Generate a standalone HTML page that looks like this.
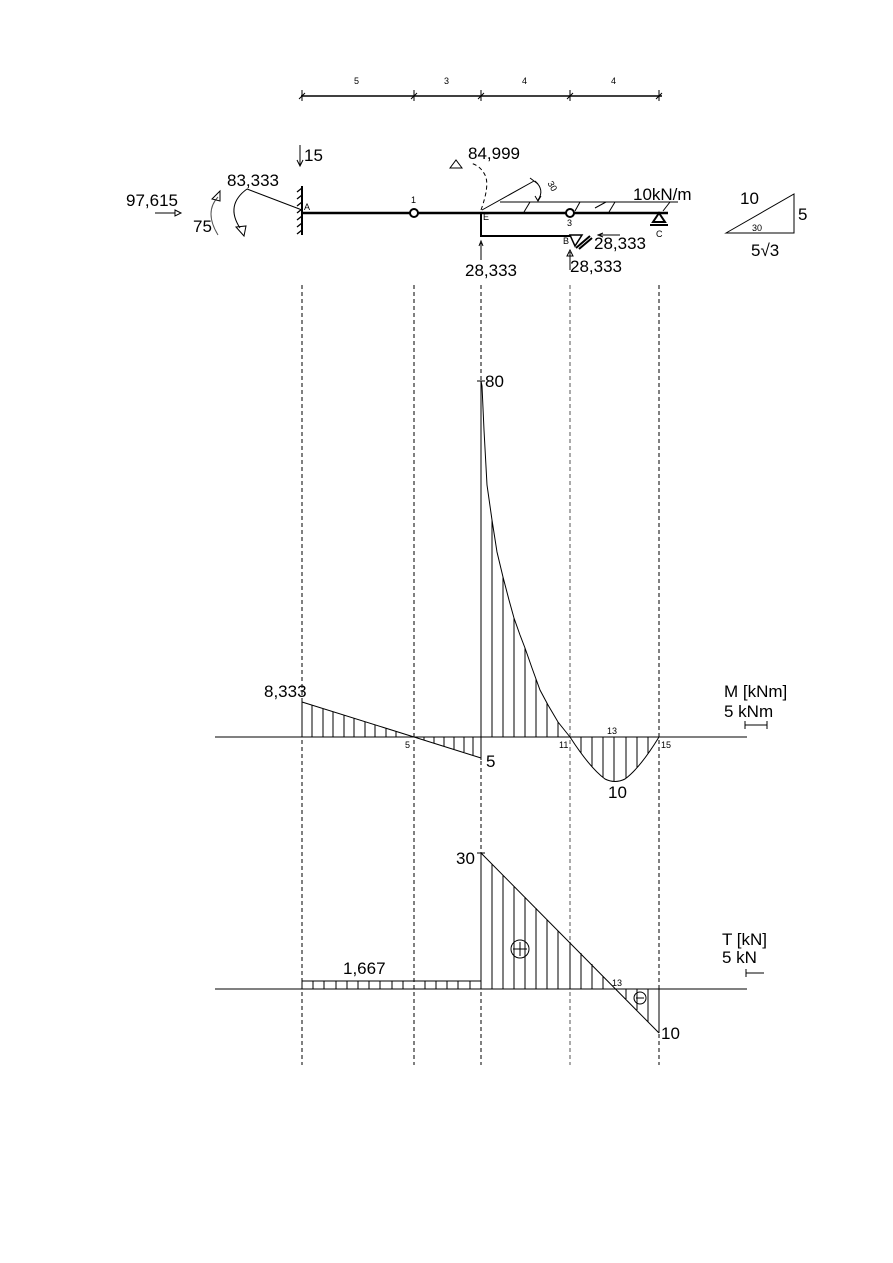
<!DOCTYPE html>
<html><head><meta charset="utf-8"><style>
html,body{margin:0;padding:0;background:#fff}
svg{display:block}
text{font-family:"Liberation Sans",sans-serif;fill:#000}
</style></head><body>
<svg width="893" height="1263" viewBox="0 0 893 1263" xmlns="http://www.w3.org/2000/svg">
<g stroke="#000" fill="none" stroke-width="1">
<line x1="301" y1="96" x2="662" y2="96" stroke-width="1.5"/>
<g stroke-width="1">
<line x1="302" y1="90" x2="302" y2="101"/><line x1="299" y1="99" x2="305" y2="93"/>
<line x1="414" y1="90" x2="414" y2="101"/><line x1="411" y1="99" x2="417" y2="93"/>
<line x1="481" y1="90" x2="481" y2="101"/><line x1="478" y1="99" x2="484" y2="93"/>
<line x1="570" y1="90" x2="570" y2="101"/><line x1="567" y1="99" x2="573" y2="93"/>
<line x1="659" y1="90" x2="659" y2="101"/><line x1="656" y1="99" x2="662" y2="93"/>
</g>
<line x1="302" y1="213" x2="668" y2="213" stroke-width="2.5"/>
<polyline points="481,213 481,236 571,236" stroke-width="2"/>
<circle cx="414" cy="213" r="4" fill="#fff" stroke-width="2"/>
<circle cx="570" cy="213" r="4" fill="#fff" stroke-width="2"/>
<line x1="302" y1="186" x2="302" y2="235" stroke-width="2"/>
<g stroke-width="1.3"><line x1="302" y1="188" x2="297" y2="192"/><line x1="302" y1="195" x2="297" y2="199"/><line x1="302" y1="202" x2="297" y2="206"/><line x1="302" y1="209" x2="297" y2="213"/><line x1="302" y1="216" x2="297" y2="220"/><line x1="302" y1="223" x2="297" y2="227"/><line x1="302" y1="230" x2="297" y2="234"/></g>
<polygon points="659,213 653,222 665,222" stroke-width="2"/>
<line x1="650" y1="225" x2="668" y2="225" stroke-width="2"/>
<polygon points="570,235 582,235 575,246" stroke-width="1.5"/>
<line x1="576" y1="248" x2="590" y2="236" stroke-width="2"/><line x1="579" y1="249" x2="592" y2="238" stroke-width="2"/>
<line x1="300" y1="145" x2="300" y2="165"/><polyline points="297,160 300,166 303,160"/>
<line x1="155" y1="213" x2="175" y2="213"/><polygon points="175,210 181,213 175,216"/>
<path d="M218,235 Q204,212 218,197" stroke="#555"/><polygon points="212,199 220,191 220,201"/>
<path d="M247,189 Q225,205 240,228" /><polygon points="236,227 244,236 246,226"/>
<line x1="247" y1="189" x2="302" y2="210"/>
<path d="M481,210 Q490,185 485,175 Q480,165 470,163" stroke-dasharray="4,3"/>
<polygon points="450,168 456,160 462,168"/>
<line x1="482" y1="210" x2="534" y2="181"/><line x1="530" y1="178" x2="538" y2="184"/>
<path d="M535,181 Q545,190 538,200"/><polyline points="535,196 538,201 541,196"/>
<line x1="500" y1="202" x2="678" y2="202"/>
<g><line x1="530" y1="202" x2="524" y2="212"/><line x1="580" y1="202" x2="575" y2="211"/><line x1="615" y1="202" x2="609" y2="212"/><line x1="670" y1="202" x2="663" y2="211"/><line x1="606" y1="202" x2="595" y2="208"/></g>
<line x1="481" y1="260" x2="481" y2="243"/><polyline points="479,246 481,241 483,246"/>
<line x1="600" y1="235" x2="620" y2="235"/><polyline points="603,233 598,235 603,237"/>
<line x1="570" y1="270" x2="570" y2="252"/><polygon points="567,256 570,250 573,256"/>
<polygon points="726,233 794,194 794,233"/>
<g stroke-dasharray="4,3" stroke="#000">
<line x1="302" y1="285" x2="302" y2="1065"/><line x1="414" y1="285" x2="414" y2="1065"/><line x1="481" y1="285" x2="481" y2="1065"/><line x1="570" y1="285" x2="570" y2="1065" stroke="#555"/><line x1="659" y1="285" x2="659" y2="1065"/>
</g>
<line x1="215" y1="737" x2="747" y2="737"/>
<polyline points="302,702 414,737 481,758"/>
<line x1="302" y1="702" x2="302" y2="737"/>
<g><line x1="312" y1="705" x2="312" y2="737"/><line x1="323" y1="709" x2="323" y2="737"/><line x1="333" y1="712" x2="333" y2="737"/><line x1="344" y1="715" x2="344" y2="737"/><line x1="354" y1="718" x2="354" y2="737"/><line x1="365" y1="722" x2="365" y2="737"/><line x1="375" y1="725" x2="375" y2="737"/><line x1="386" y1="728" x2="386" y2="737"/><line x1="396" y1="731" x2="396" y2="737"/><line x1="424" y1="737" x2="424" y2="740"/><line x1="434" y1="737" x2="434" y2="743"/><line x1="444" y1="737" x2="444" y2="746"/><line x1="454" y1="737" x2="454" y2="749"/><line x1="464" y1="737" x2="464" y2="752"/><line x1="473" y1="737" x2="473" y2="755"/></g>
<line x1="481" y1="381" x2="481" y2="760"/>
<path d="M481,381 L482,386 L484,430 L487,485 L492,520 L497,552 L503,577 L509,600 L514,618 L520,635 L525,648 L532,668 L540,690 L548,705 L558,722 L570,737"/>
<g><line x1="492" y1="520" x2="492" y2="737"/><line x1="503" y1="577" x2="503" y2="737"/><line x1="514" y1="618" x2="514" y2="737"/><line x1="525" y1="648" x2="525" y2="737"/><line x1="536" y1="679" x2="536" y2="737"/><line x1="547" y1="703" x2="547" y2="737"/><line x1="558" y1="722" x2="558" y2="737"/></g>
<path d="M570,737 Q590,768 605,779 Q615,784 625,779 Q640,768 659,737"/>
<g><line x1="581" y1="737" x2="581" y2="753"/><line x1="592" y1="737" x2="592" y2="767"/><line x1="603" y1="737" x2="603" y2="777"/><line x1="614" y1="737" x2="614" y2="781"/><line x1="626" y1="737" x2="626" y2="778"/><line x1="637" y1="737" x2="637" y2="768"/><line x1="648" y1="737" x2="648" y2="754"/></g>
<line x1="745" y1="725" x2="767" y2="725"/><line x1="745" y1="721" x2="745" y2="729"/><line x1="767" y1="721" x2="767" y2="729"/>
<line x1="215" y1="989" x2="747" y2="989"/>
<rect x="302" y="981" width="179" height="8"/>
<g><line x1="313" y1="981" x2="313" y2="989"/><line x1="324" y1="981" x2="324" y2="989"/><line x1="336" y1="981" x2="336" y2="989"/><line x1="347" y1="981" x2="347" y2="989"/><line x1="358" y1="981" x2="358" y2="989"/><line x1="369" y1="981" x2="369" y2="989"/><line x1="380" y1="981" x2="380" y2="989"/><line x1="392" y1="981" x2="392" y2="989"/><line x1="403" y1="981" x2="403" y2="989"/><line x1="425" y1="981" x2="425" y2="989"/><line x1="436" y1="981" x2="436" y2="989"/><line x1="447" y1="981" x2="447" y2="989"/><line x1="458" y1="981" x2="458" y2="989"/><line x1="470" y1="981" x2="470" y2="989"/></g>
<line x1="481" y1="853" x2="481" y2="989"/>
<line x1="481" y1="853" x2="659" y2="1033"/>
<line x1="659" y1="989" x2="659" y2="1033"/>
<g><line x1="492" y1="864" x2="492" y2="989"/><line x1="503" y1="875" x2="503" y2="989"/><line x1="514" y1="886" x2="514" y2="989"/><line x1="525" y1="897" x2="525" y2="989"/><line x1="536" y1="908" x2="536" y2="989"/><line x1="547" y1="920" x2="547" y2="989"/><line x1="558" y1="931" x2="558" y2="989"/><line x1="570" y1="942" x2="570" y2="989"/><line x1="581" y1="953" x2="581" y2="989"/><line x1="592" y1="964" x2="592" y2="989"/><line x1="603" y1="976" x2="603" y2="989"/><line x1="626" y1="989" x2="626" y2="999"/><line x1="637" y1="989" x2="637" y2="1010"/><line x1="648" y1="989" x2="648" y2="1022"/></g>
<circle cx="520" cy="949" r="9"/><line x1="513" y1="949" x2="527" y2="949"/><line x1="520" y1="942" x2="520" y2="956"/>
<circle cx="640" cy="998" r="6"/><line x1="636" y1="998" x2="644" y2="998"/>
<line x1="746" y1="973" x2="764" y2="973"/><line x1="746" y1="969" x2="746" y2="977"/>
<line x1="477" y1="853" x2="485" y2="853"/><line x1="477" y1="381" x2="485" y2="381"/>
</g>
<g font-size="17">
<text x="304" y="161">15</text>
<text x="227" y="186">83,333</text>
<text x="126" y="206">97,615</text>
<text x="193" y="232">75</text>
<text x="468" y="159">84,999</text>
<text x="633" y="200">10kN/m</text>
<text x="594" y="249">28,333</text>
<text x="570" y="272">28,333</text>
<text x="465" y="276">28,333</text>
<text x="740" y="204">10</text>
<text x="798" y="220">5</text>
<text x="751" y="256">5√3</text>
<text x="485" y="387">80</text>
<text x="264" y="697">8,333</text>
<text x="486" y="767">5</text>
<text x="608" y="798">10</text>
<text x="724" y="697">M [kNm]</text>
<text x="724" y="717">5 kNm</text>
<text x="456" y="864">30</text>
<text x="343" y="974">1,667</text>
<text x="661" y="1039">10</text>
<text x="722" y="945">T [kN]</text>
<text x="722" y="963">5 kN</text>
</g>
<g font-size="9">
<text x="354" y="84">5</text><text x="444" y="84">3</text><text x="522" y="84">4</text><text x="611" y="84">4</text>
<text x="304" y="210">A</text><text x="411" y="203">1</text><text x="483" y="220">E</text><text x="567" y="226">3</text><text x="656" y="237">C</text><text x="563" y="244">B</text>
<text x="405" y="748">5</text><text x="559" y="748">11</text><text x="607" y="734">13</text><text x="661" y="748">15</text>
<text x="612" y="986">13</text><text x="752" y="231">30</text>
<text x="548" y="186" transform="rotate(60 550 184)">30</text>
</g>
</svg>
</body></html>
